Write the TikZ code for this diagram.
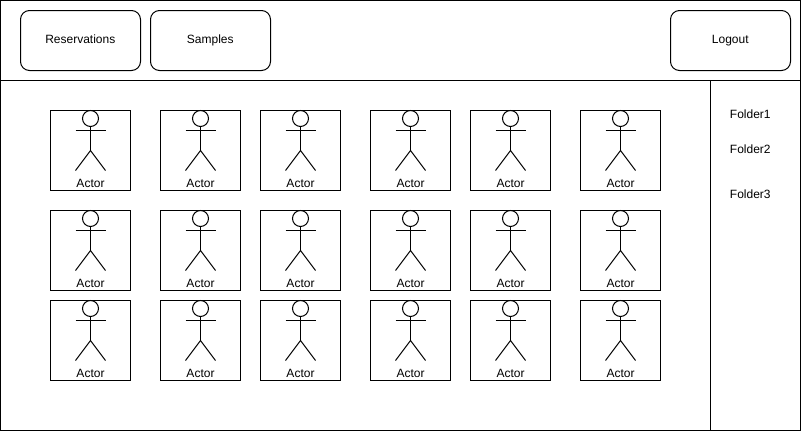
\documentclass[tikz,border=0pt]{standalone}
\usepackage{fontspec}
\setmainfont{Liberation Sans}
\usetikzlibrary{positioning}
\tikzset{
  tab/.style={draw, rounded corners=9pt, minimum width=120pt, minimum height=60pt, inner sep=0pt},
  actorbox/.style={draw, minimum width=80pt, minimum height=80pt, inner sep=0pt},
  label/.style={inner sep=0pt, text height=9pt, text depth=3pt, font=\fontsize{12}{14}\selectfont},
}
\begin{document}
\begin{tikzpicture}[x=1pt, y=-1pt, line width=1pt]
  \useasboundingbox (0,0) rectangle (801,431);

  % Page frame and dividers
  \draw (0.5,0.5) rectangle (800.5,430.5);
  \draw (0.5,80.5) -- (800.5,80.5);
  \draw (710.5,80.5) -- (710.5,430.5);

  % Top buttons
  \node[tab] (reservations) at (80.5,40.5) {};
  \node[tab] (samples) at (210.5,40.5) {};
  \node[tab] (logout) at (730.5,40.5) {};
  \node[label] (reservationstext) at (80.3,40) {Reservations};
  \node[label] (samplestext) at (210.3,40) {Samples};
  \node[label] (logouttext) at (730.3,40) {Logout};

  % Folder list
  \node[label] (folder1) at (750.3,115) {Folder1};
  \node[label] (folder2) at (750.3,150) {Folder2};
  \node[label] (folder3) at (750.3,195) {Folder3};

  % Grid of actors
  \foreach \y in {110,210,300} {
    \foreach \x in {50,160,260,370,470,580} {
      \node[actorbox] (box-\x-\y) at (\x+40.5,\y+40.5) {};
      \begin{scope}[shift={(\x+0.5,\y+0.5)}]
        \draw (40,8) circle (8pt);
        \draw (40,16) -- (40,40);
        \draw (25,20) -- (55,20);
        \draw (25,60) -- (40,40) -- (55,60);
      \end{scope}
      \node[label] (actor-\x-\y) at (\x+40.5,\y+74) {Actor};
    }
  }
\end{tikzpicture}
\end{document}
